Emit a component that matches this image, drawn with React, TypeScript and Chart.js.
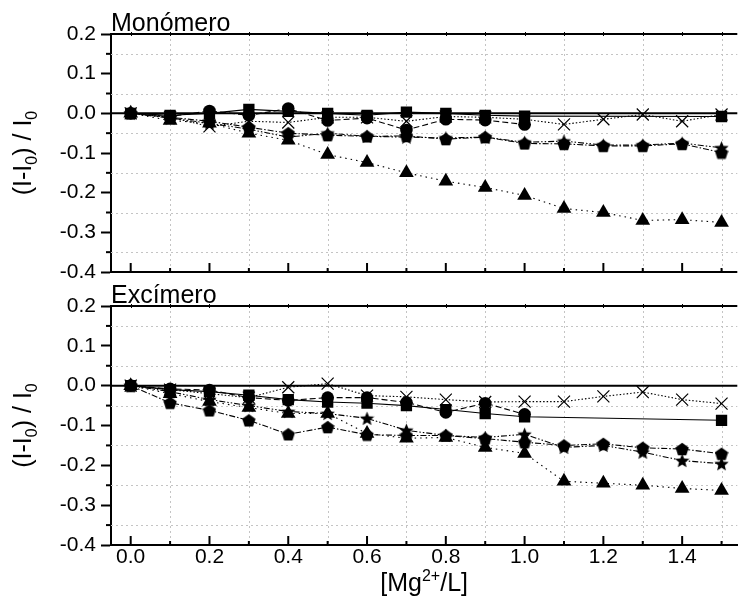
import React, { useEffect, useRef } from "react";
import { Chart, registerables } from "chart.js";

Chart.register(...registerables);

// ---------- data ----------
const xFull = [0, 0.1, 0.2, 0.3, 0.4, 0.5, 0.6, 0.7, 0.8, 0.9, 1.0, 1.1, 1.2, 1.3, 1.4, 1.5];
const xSquare = [0, 0.1, 0.2, 0.3, 0.4, 0.5, 0.6, 0.7, 0.8, 0.9, 1.0, 1.5];
const xCircle = [0, 0.1, 0.2, 0.3, 0.4, 0.5, 0.6, 0.7, 0.8, 0.9, 1.0];

// Monómero
const monoSquare = [0, -0.005, 0.0, 0.01, 0.005, 0.0, -0.005, 0.003, 0.0, -0.005, -0.007, -0.008];
const monoCircle = [0, -0.008, 0.006, -0.005, 0.012, -0.018, -0.012, -0.042, -0.015, -0.017, -0.028];
const monoTriangle = [0, -0.018, -0.025, -0.05, -0.068, -0.104, -0.124, -0.15, -0.171, -0.187, -0.207, -0.24, -0.25, -0.27, -0.268, -0.275];
const monoCross = [0, -0.01, -0.033, -0.02, -0.023, -0.01, -0.01, -0.02, -0.008, -0.01, -0.015, -0.028, -0.015, -0.003, -0.02, -0.003];
const monoStar = [0, -0.012, -0.025, -0.04, -0.06, -0.05, -0.058, -0.06, -0.062, -0.06, -0.073, -0.07, -0.08, -0.08, -0.075, -0.087];
const monoPentagon = [0, -0.01, -0.02, -0.035, -0.05, -0.055, -0.058, -0.057, -0.065, -0.06, -0.076, -0.077, -0.082, -0.082, -0.077, -0.099];

// Excímero
const excSquare = [0, -0.01, -0.015, -0.024, -0.035, -0.041, -0.044, -0.05, -0.06, -0.07, -0.078, -0.087];
const excCircle = [0, -0.008, -0.011, -0.03, -0.037, -0.03, -0.03, -0.042, -0.067, -0.044, -0.072];
const excTriangle = [0, -0.02, -0.04, -0.055, -0.07, -0.07, -0.12, -0.132, -0.13, -0.155, -0.17, -0.24, -0.245, -0.25, -0.258, -0.263];
const excCross = [0, -0.01, -0.02, -0.03, -0.004, 0.005, -0.025, -0.028, -0.035, -0.041, -0.04, -0.04, -0.027, -0.016, -0.035, -0.045];
const excStar = [0, -0.015, -0.035, -0.05, -0.065, -0.07, -0.082, -0.112, -0.125, -0.13, -0.122, -0.155, -0.15, -0.167, -0.188, -0.196];
const excPentagon = [0, -0.043, -0.062, -0.087, -0.122, -0.104, -0.123, -0.125, -0.125, -0.133, -0.142, -0.15, -0.146, -0.156, -0.159, -0.171];

// ticks
const yTicks = [-0.4, -0.3, -0.2, -0.1, 0, 0.1, 0.2];
const yMinorTicks = [-0.35, -0.25, -0.15, -0.05, 0.05, 0.15];
const xTicks = [0, 0.2, 0.4, 0.6, 0.8, 1.0, 1.2, 1.4];
const xMinorTicks = [0.1, 0.3, 0.5, 0.7, 0.9, 1.1, 1.3, 1.5];

const FONT = '"Liberation Sans", Arial, sans-serif';
const W = 747;
const TICK_SIZE = 21;
const TITLE_SIZE = 25;

// ---------- helpers ----------
function makeMarker(kind: "pentagon" | "star", size: number): HTMLCanvasElement {
  const c = document.createElement("canvas");
  c.width = size;
  c.height = size;
  const ctx = c.getContext("2d")!;
  ctx.fillStyle = "#000";
  ctx.beginPath();
  const cx = size / 2;
  const cy = size / 2;
  const r = size / 2;
  const cyy = cy + r * 0.09;
  if (kind === "pentagon") {
    for (let i = 0; i < 5; i++) {
      const a = -Math.PI / 2 + (i * 2 * Math.PI) / 5;
      ctx.lineTo(cx + r * Math.cos(a), cyy + r * Math.sin(a));
    }
  } else {
    for (let i = 0; i < 10; i++) {
      const a = -Math.PI / 2 + (i * Math.PI) / 5;
      const rr = i % 2 === 0 ? r : r * 0.45;
      ctx.lineTo(cx + rr * Math.cos(a), cyy + rr * Math.sin(a));
    }
  }
  ctx.closePath();
  ctx.fill();
  return c;
}

type Part = { t: string; sub?: boolean; sup?: boolean };

function drawRich(ctx: CanvasRenderingContext2D, parts: Part[], cx: number, cy: number, size: number, rotate: boolean) {
  ctx.save();
  ctx.translate(cx, cy);
  if (rotate) ctx.rotate(-Math.PI / 2);
  ctx.fillStyle = "#000";
  ctx.textBaseline = "alphabetic";
  ctx.textAlign = "left";
  const small = Math.round(size * 0.65);
  const widths = parts.map((p) => {
    ctx.font = `${p.sub || p.sup ? small : size}px ${FONT}`;
    return ctx.measureText(p.t).width;
  });
  const total = widths.reduce((a, b) => a + b, 0);
  let x = -total / 2;
  const base = size * 0.36;
  parts.forEach((p, i) => {
    ctx.font = `${p.sub || p.sup ? small : size}px ${FONT}`;
    let dy = base;
    if (p.sub) dy = base + size * 0.22;
    if (p.sup) dy = base - size * 0.42;
    ctx.fillText(p.t, x, dy);
    x += widths[i];
  });
  ctx.restore();
}

function makeFramePlugin(title: string, isBottom: boolean) {
  return {
    id: "frame",
    beforeDatasetsDraw(chart: any) {
      const { ctx, chartArea } = chart;
      const { left, right, top, bottom } = chartArea;
      const xs = chart.scales.x;
      const ys = chart.scales.y;
      ctx.save();
      ctx.strokeStyle = "#c4c4c4";
      ctx.lineWidth = 1;
      ctx.setLineDash([2, 3]);
      for (const v of xMinorTicks) {
        const px = Math.round(xs.getPixelForValue(v)) + 0.5;
        ctx.beginPath();
        ctx.moveTo(px, top);
        ctx.lineTo(px, bottom);
        ctx.stroke();
      }
      for (const v of yMinorTicks) {
        const py = Math.round(ys.getPixelForValue(v)) + 0.5;
        ctx.beginPath();
        ctx.moveTo(left, py);
        ctx.lineTo(right, py);
        ctx.stroke();
      }
      ctx.setLineDash([]);
      // zero line
      ctx.strokeStyle = "#000";
      ctx.lineWidth = 2;
      const y0 = ys.getPixelForValue(0);
      ctx.beginPath();
      ctx.moveTo(left, y0);
      ctx.lineTo(right, y0);
      ctx.stroke();
      ctx.restore();
    },
    afterDraw(chart: any) {
      const { ctx, chartArea } = chart;
      const { left, right, top, bottom } = chartArea;
      const xs = chart.scales.x;
      const ys = chart.scales.y;
      ctx.save();
      ctx.strokeStyle = "#000";
      ctx.lineWidth = 2;
      // top border
      ctx.beginPath();
      ctx.moveTo(left - 1, top);
      ctx.lineTo(right, top);
      ctx.stroke();
      // bottom border
      ctx.beginPath();
      ctx.moveTo(left - 1, bottom);
      ctx.lineTo(right, bottom);
      ctx.stroke();
      // minor y ticks outward
      for (const v of yMinorTicks) {
        const py = ys.getPixelForValue(v);
        ctx.beginPath();
        ctx.moveTo(left - 5, py);
        ctx.lineTo(left, py);
        ctx.stroke();
      }
      // x ticks inward on bottom axis
      for (const v of xTicks) {
        const px = xs.getPixelForValue(v);
        ctx.beginPath();
        ctx.moveTo(px, bottom);
        ctx.lineTo(px, bottom - 9);
        ctx.stroke();
      }
      for (const v of xMinorTicks) {
        const px = xs.getPixelForValue(v);
        ctx.beginPath();
        ctx.moveTo(px, bottom);
        ctx.lineTo(px, bottom - 4);
        ctx.stroke();
      }
      // small ticks on top border
      ctx.lineWidth = 1;
      for (const v of [...xTicks, ...xMinorTicks]) {
        const px = Math.round(xs.getPixelForValue(v)) + 0.5;
        ctx.beginPath();
        ctx.moveTo(px, top - 2);
        ctx.lineTo(px, top + 2);
        ctx.stroke();
      }
      ctx.restore();

      // panel title
      ctx.save();
      ctx.fillStyle = "#000";
      ctx.font = `${TITLE_SIZE}px ${FONT}`;
      ctx.textAlign = "left";
      ctx.textBaseline = "alphabetic";
      ctx.fillText(title, left, top - 3);
      ctx.restore();

      // y axis title
      drawRich(
        ctx,
        [{ t: "(I-I" }, { t: "0", sub: true }, { t: ") / I" }, { t: "0", sub: true }],
        22,
        (top + bottom) / 2,
        TITLE_SIZE,
        true
      );

      if (isBottom) {
        drawRich(ctx, [{ t: "[Mg" }, { t: "2+", sup: true }, { t: "/L]" }], (left + right) / 2, bottom + 37, TITLE_SIZE, false);
      }
    },
  };
}

function buildDatasets(
  sq: number[],
  ci: number[],
  tr: number[],
  cr: number[],
  st: number[],
  pe: number[],
  starImg: HTMLCanvasElement,
  pentImg: HTMLCanvasElement
) {
  const pts = (xs: number[], ys: number[]) => xs.map((x, i) => ({ x, y: ys[i] }));
  const common = {
    borderColor: "#000",
    backgroundColor: "#000",
    pointBackgroundColor: "#000",
    pointBorderColor: "#000",
    borderWidth: 1.1,
    tension: 0,
    fill: false,
  };
  return [
    { ...common, label: "cross", data: pts(xFull, cr), pointStyle: "crossRot", pointRadius: 8.5, pointBorderWidth: 1.2, borderDash: [1.5, 2] },
    { ...common, label: "triangle", data: pts(xFull, tr), pointStyle: "triangle", pointRadius: 8.5, pointBorderWidth: 0, borderDash: [1.5, 4] },
    { ...common, label: "star", data: pts(xFull, st), pointStyle: starImg, borderDash: [6, 2, 1.5, 2, 1.5, 2] },
    { ...common, label: "pentagon", data: pts(xFull, pe), pointStyle: pentImg, borderDash: [6, 2, 1.5, 2] },
    { ...common, label: "circle", data: pts(xCircle, ci), pointStyle: "circle", pointRadius: 6.3, pointBorderWidth: 0, borderDash: [6, 3] },
    { ...common, label: "square", data: pts(xSquare, sq), pointStyle: "rect", pointRadius: 8, pointBorderWidth: 0, borderDash: [] },
  ];
}

function makeConfig(datasets: any[], title: string, isBottom: boolean, padTop: number, padBottom: number) {
  return {
    type: "line" as const,
    data: { datasets },
    options: {
      animation: false,
      responsive: false,
      maintainAspectRatio: false,
      layout: { padding: { top: padTop, bottom: padBottom, left: 0, right: 0 } },
      plugins: { legend: { display: false }, tooltip: { enabled: false }, title: { display: false } },
      scales: {
        x: {
          type: "linear",
          min: -0.05,
          max: 1.54,
          display: isBottom,
          afterBuildTicks: (s: any) => {
            s.ticks = xTicks.map((v) => ({ value: v }));
          },
          afterFit: (s: any) => {
            if (isBottom) s.height = 63;
            s.paddingLeft = 0;
            s.paddingRight = 0;
          },
          ticks: {
            callback: (v: any) => Number(v).toFixed(1),
            font: { family: FONT, size: TICK_SIZE },
            color: "#000",
            padding: 0,
            maxRotation: 0,
            autoSkip: false,
          },
          grid: { drawOnChartArea: false, drawTicks: false },
          border: { display: true, color: "#000", width: 2 },
        },
        y: {
          type: "linear",
          min: -0.4,
          max: 0.2,
          afterBuildTicks: (s: any) => {
            s.ticks = yTicks.map((v) => ({ value: v }));
          },
          afterFit: (s: any) => {
            s.width = 111;
            s.paddingTop = 0;
            s.paddingBottom = 0;
          },
          ticks: {
            callback: (v: any) => Number(v).toFixed(1),
            font: { family: FONT, size: TICK_SIZE },
            color: "#000",
            padding: 5,
          },
          grid: { drawOnChartArea: false, drawTicks: true, tickLength: 10, tickColor: "#000", tickWidth: 2 },
          border: { display: true, color: "#000", width: 2 },
        },
      },
    },
    plugins: [makeFramePlugin(title, isBottom)],
  };
}

// canvas geometry (the two canvases overlap slightly; both are transparent)
const TOP_H = 292;
const BOT_TOP = 268;
const BOT_H = 608 - BOT_TOP;

export default function App() {
  const topRef = useRef<HTMLCanvasElement>(null);
  const botRef = useRef<HTMLCanvasElement>(null);

  useEffect(() => {
    const starImg = makeMarker("star", 15);
    const pentImg = makeMarker("pentagon", 14);
    const topChart = new Chart(
      topRef.current!,
      makeConfig(
        buildDatasets(monoSquare, monoCircle, monoTriangle, monoCross, monoStar, monoPentagon, starImg, pentImg),
        "Monómero",
        false,
        34,
        TOP_H - 272
      ) as any
    );
    const botChart = new Chart(
      botRef.current!,
      makeConfig(
        buildDatasets(excSquare, excCircle, excTriangle, excCross, excStar, excPentagon, starImg, pentImg),
        "Excímero",
        true,
        306 - BOT_TOP,
        0
      ) as any
    );
    return () => {
      topChart.destroy();
      botChart.destroy();
    };
  }, []);

  return (
    <div style={{ position: "absolute", left: 0, top: 0, width: W, height: 608, background: "#fff" }}>
      <canvas ref={topRef} width={W} height={TOP_H} style={{ position: "absolute", left: 0, top: 0, width: W, height: TOP_H }} />
      <canvas ref={botRef} width={W} height={BOT_H} style={{ position: "absolute", left: 0, top: BOT_TOP, width: W, height: BOT_H }} />
    </div>
  );
}
